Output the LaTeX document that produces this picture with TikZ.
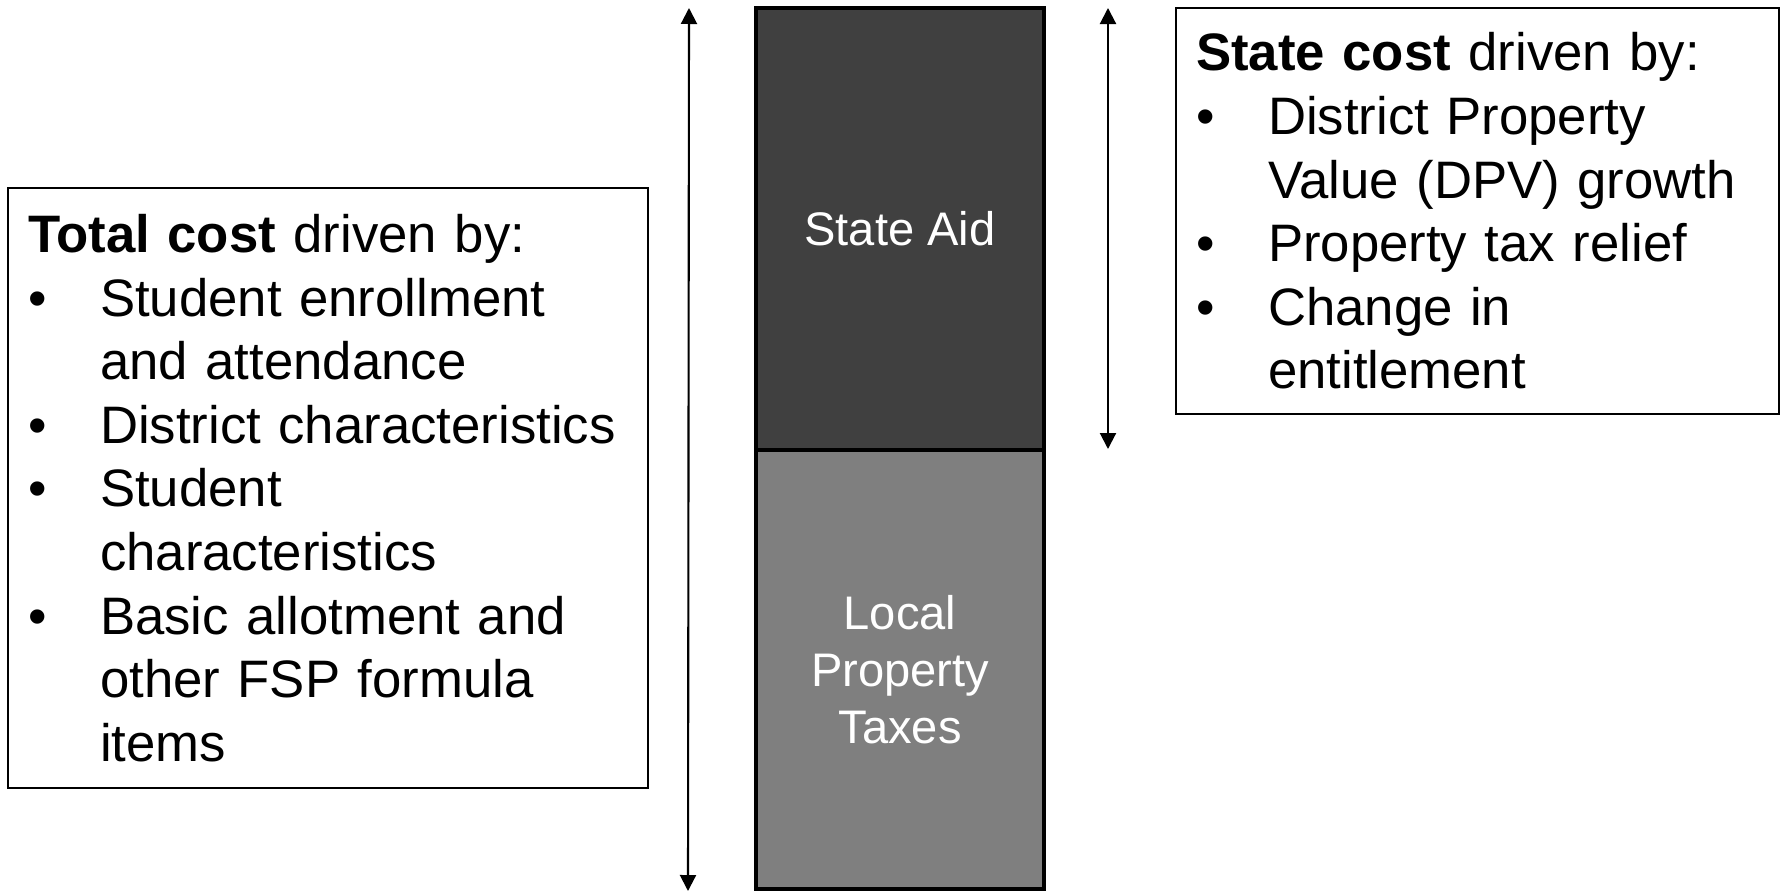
\documentclass[tikz,border=0pt]{standalone}
\usepackage{fontspec}
\setmainfont{Liberation Sans}
\usetikzlibrary{arrows.meta}

\definecolor{ayuda}{HTML}{404040}
\definecolor{local}{HTML}{7F7F7F}

% viñeta con sangría francesa
\newcommand{\vineta}[1]{\par\noindent\hangindent=0.72cm\hangafter=1\makebox[0.72cm][l]{\textbullet}#1\par}

\begin{document}
\begin{tikzpicture}[
    >={Triangle[width=0.16cm,length=0.16cm]},
    caja/.style={draw=black, line width=0.6pt, anchor=north west, inner xsep=0.2cm, inner ysep=0pt, align=left, font=\fontsize{15pt}{18.1pt}\selectfont},
    barra/.style={draw=black, line width=1.2pt, outer sep=0pt, minimum width=2.88cm, anchor=north west, text=white, align=center, font=\fontsize{13.4pt}{16.2pt}\selectfont},
    cota/.style={<->, line width=0.6pt}
  ]
    \useasboundingbox (0,0) rectangle (17.83,-8.92);

    % --- Barra apilada ---
    \node[barra, fill=ayuda, minimum height=4.42cm] (aid) at (7.56,-0.08) {State Aid};
    \node[barra, fill=local, minimum height=4.39cm] (local) at (aid.south west) {Local\\Property\\Taxes};

    % --- Flechas de alcance ---
    \coordinate (totArriba) at (6.89,-0.08);
    \coordinate (totAbajo) at (6.88,-8.91);
    \coordinate (estArriba) at (11.08,-0.08);
    \coordinate (estAbajo) at (11.08,-4.49);
    \draw[cota] (totArriba) -- (totAbajo);
    \draw[cota] (estArriba) -- (estAbajo);

    % --- Cuadros de texto ---
    \node[caja, text width=6.0cm, minimum height=6.0cm] (total) at (0.07,-1.87) {%
      \textbf{Total cost} driven by:
      \vineta{Student enrollment\newline and attendance}
      \vineta{District characteristics}
      \vineta{Student\newline characteristics}
      \vineta{Basic allotment and\newline other FSP formula\newline items}};

    \node[caja, text width=5.63cm, minimum height=4.06cm] (estado) at (11.75,-0.07) {%
      \textbf{State cost} driven by:
      \vineta{District Property\newline Value (DPV) growth}
      \vineta{Property tax relief}
      \vineta{Change in\newline entitlement}};

  \end{tikzpicture}
\end{document}
